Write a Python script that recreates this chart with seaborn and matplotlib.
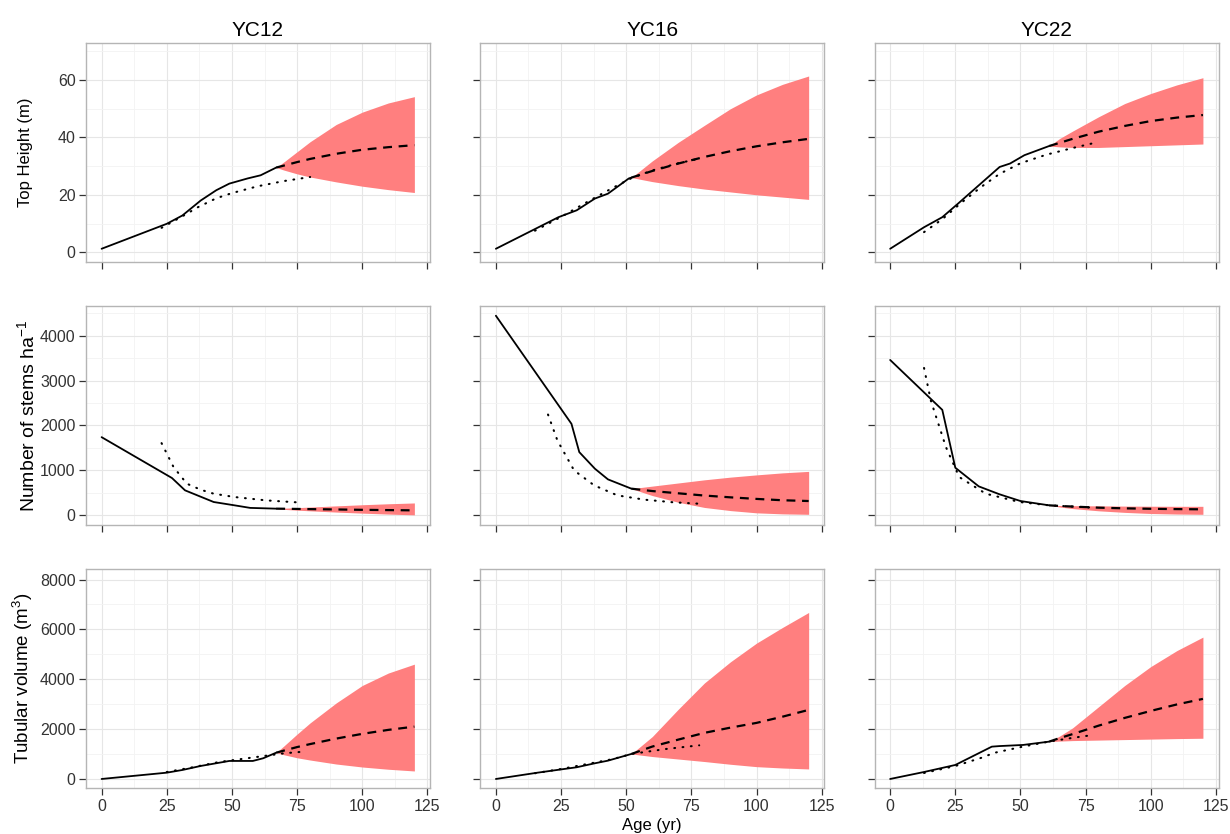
import numpy as np
import matplotlib
matplotlib.use("Agg")
import matplotlib.pyplot as plt
from matplotlib.ticker import MultipleLocator
import seaborn as sns


# -----------------------------
# Data
# -----------------------------
SITES = ["YC12", "YC16", "YC22"]
ROW_LABELS = ["Top Height (m)", "Number of stems ha$^{-1}$", "Tubular volume (m$^3$)"]

# YC12 -----------------------------------------------------------------
yc12_height_obs_age = [0, 25, 31, 38, 44, 49, 56, 61, 67]
yc12_height_obs = [1.2, 9.9, 12.8, 18.0, 21.6, 23.9, 25.7, 26.8, 29.5]
yc12_height_tab_age = [23, 30, 37, 44, 50, 60, 70, 80]
yc12_height_tab = [8.5, 12.0, 15.7, 18.8, 20.6, 23.0, 24.8, 26.2]

yc12_stems_obs_age = [0, 27, 32, 43, 51, 57, 67]
yc12_stems_obs = [1740, 830, 556, 296, 222, 165, 148]
yc12_stems_tab_age = [23, 27.6, 32.7, 38, 43, 51, 63, 77]
yc12_stems_tab = [1607, 1074, 704, 570, 481, 407, 333, 281]

yc12_volume_obs_age = [0, 25, 31, 38, 49, 58, 62, 67]
yc12_volume_obs = [0, 253, 361, 522, 723, 723, 831, 1056]
yc12_volume_tab_age = [25, 35, 45, 55, 65, 70, 78]
yc12_volume_tab = [280, 470, 680, 820, 960, 1030, 1100]

yc12_proj_age = [67, 70, 75, 80, 90, 100, 110, 120]
yc12_height_mean = [29.5, 30.2, 31.4, 32.5, 34.3, 35.7, 36.6, 37.3]
yc12_height_lo = [29.5, 28.6, 27.3, 26.2, 24.5, 23.0, 21.8, 20.8]
yc12_height_hi = [29.5, 31.5, 35.0, 38.5, 44.5, 48.8, 52.0, 54.2]
yc12_stems_mean = [148, 146, 142, 138, 130, 122, 116, 110]
yc12_stems_lo = [148, 132, 115, 100, 72, 48, 27, 10]
yc12_stems_hi = [148, 158, 170, 183, 210, 235, 257, 275]
yc12_volume_mean = [1056, 1140, 1280, 1400, 1620, 1810, 1970, 2100]
yc12_volume_lo = [1056, 970, 850, 760, 600, 480, 390, 321]
yc12_volume_hi = [1056, 1330, 1800, 2250, 3050, 3750, 4250, 4606]

# YC16 -----------------------------------------------------------------
yc16_height_obs_age = [0, 24, 31, 38, 43, 51, 52]
yc16_height_obs = [1.2, 12.2, 14.6, 18.7, 20.4, 25.7, 26.0]
yc16_height_tab_age = [15, 25, 35, 45, 52, 60, 70, 78]
yc16_height_tab = [7.5, 12.3, 17.5, 22.5, 25.8, 28.5, 31.0, 32.6]

yc16_stems_obs_age = [0, 29, 32, 38, 43, 52]
yc16_stems_obs = [4444, 2037, 1407, 1037, 800, 593]
yc16_stems_tab_age = [20, 23.6, 30, 37.7, 46.6, 57, 68, 79]
yc16_stems_tab = [2244, 1667, 1000, 667, 444, 348, 290, 255]

yc16_volume_obs_age = [0, 16, 31, 38, 43, 52]
yc16_volume_obs = [0, 253, 470, 630, 735, 1004]
yc16_volume_tab_age = [15, 25, 35, 45, 52, 65, 78]
yc16_volume_tab = [230, 400, 600, 800, 1004, 1200, 1350]

yc16_proj_age = [52, 60, 70, 80, 90, 100, 110, 120]
yc16_height_mean = [26.0, 28.3, 30.9, 33.2, 35.2, 36.9, 38.3, 39.5]
yc16_height_lo = [26.0, 24.6, 23.2, 22.0, 21.0, 20.0, 19.2, 18.4]
yc16_height_hi = [26.0, 31.8, 38.3, 44.2, 50.0, 54.8, 58.5, 61.4]
yc16_stems_mean = [593, 540, 490, 440, 400, 365, 335, 318]
yc16_stems_lo = [593, 440, 290, 175, 105, 55, 32, 22]
yc16_stems_hi = [593, 650, 720, 790, 850, 900, 945, 978]
yc16_volume_mean = [1004, 1300, 1580, 1850, 2060, 2250, 2500, 2771]
yc16_volume_lo = [1004, 900, 800, 700, 590, 494, 440, 402]
yc16_volume_hi = [1004, 1700, 2800, 3850, 4700, 5450, 6080, 6680]

# YC22 -----------------------------------------------------------------
yc22_height_obs_age = [0, 13, 20, 26, 35.5, 42, 46, 51.5, 61]
yc22_height_obs = [1.2, 8.7, 12.2, 16.9, 24.5, 29.7, 30.9, 33.8, 37.0]
yc22_height_tab_age = [13, 20, 27, 35, 42, 50, 60, 70, 78]
yc22_height_tab = [7.0, 11.5, 17.0, 22.8, 27.3, 31.0, 34.0, 36.3, 38.0]

yc22_stems_obs_age = [0, 20, 25, 34, 42, 50, 61]
yc22_stems_obs = [3459, 2348, 1059, 644, 467, 318, 222]
yc22_stems_tab_age = [13, 15.6, 21.4, 26.5, 36.7, 49.6, 61, 78]
yc22_stems_tab = [3281, 2556, 1519, 852, 481, 296, 222, 170]

yc22_volume_obs_age = [0, 13, 25, 39, 42, 51, 61]
yc22_volume_obs = [0, 280, 562, 1297, 1320, 1365, 1498]
yc22_volume_tab_age = [13, 25, 35, 40, 51, 61, 70, 78]
yc22_volume_tab = [240, 520, 850, 1050, 1300, 1500, 1650, 1767]

yc22_proj_age = [61, 65, 70, 80, 90, 100, 110, 120]
yc22_height_mean = [37.0, 38.1, 39.5, 42.0, 44.0, 45.7, 46.9, 47.8]
yc22_height_lo = [37.0, 36.7, 36.5, 36.5, 36.8, 37.1, 37.4, 37.7]
yc22_height_hi = [37.0, 39.6, 42.2, 47.2, 51.8, 55.3, 58.3, 60.8]
yc22_stems_mean = [222, 208, 195, 170, 155, 145, 138, 133]
yc22_stems_lo = [222, 185, 150, 100, 65, 40, 28, 22]
yc22_stems_hi = [222, 218, 215, 210, 205, 202, 200, 200]
yc22_volume_mean = [1498, 1640, 1800, 2140, 2450, 2731, 2990, 3213]
yc22_volume_lo = [1498, 1520, 1540, 1560, 1580, 1600, 1620, 1634]
yc22_volume_hi = [1498, 1720, 2050, 2900, 3750, 4510, 5150, 5691]

X_TICKS = [0, 25, 50, 75, 100, 125]
Y_TICKS = [[0, 20, 40, 60], [0, 1000, 2000, 3000, 4000], [0, 2000, 4000, 6000, 8000]]
Y_MINOR = [10, 500, 1000]
Y_LIMS = [(-3.5, 73), (-222, 4667), (-374, 8434)]
YLABEL_SIZE = [12, 14, 13.5]
YLABEL_X = [-0.155, -0.14, -0.149]   # right edge of the rotated label, axes fraction

RIBBON_COLOR = "#FF7F7F"


def panel(site, var):
    g = globals()
    p = site.lower()
    return dict(
        obs_age=g[f"{p}_{var}_obs_age"], obs=g[f"{p}_{var}_obs"],
        tab_age=g[f"{p}_{var}_tab_age"], tab=g[f"{p}_{var}_tab"],
        proj_age=g[f"{p}_proj_age"], mean=g[f"{p}_{var}_mean"],
        lo=g[f"{p}_{var}_lo"], hi=g[f"{p}_{var}_hi"],
    )


def style_axis(ax, row):
    ax.set_facecolor("white")
    ax.set_xlim(-6, 126)
    ax.set_ylim(*Y_LIMS[row])
    ax.set_xticks(X_TICKS)
    ax.set_yticks(Y_TICKS[row])
    ax.xaxis.set_minor_locator(MultipleLocator(12.5))
    ax.yaxis.set_minor_locator(MultipleLocator(Y_MINOR[row]))
    ax.grid(which="major", color="#e6e6e6", lw=0.8)
    ax.grid(which="minor", color="#f3f3f3", lw=0.6)
    ax.set_axisbelow(True)
    for s in ax.spines.values():
        s.set_color("#b5b5b5")
        s.set_linewidth(1.0)
        s.set_visible(True)
    ax.tick_params(which="major", length=5, width=0.9, color="#333333",
                   labelcolor="#333333", labelsize=11.5, pad=2.5)
    ax.tick_params(which="minor", length=0)
    ax.tick_params(axis="x", bottom=True)
    ax.tick_params(axis="y", left=True)


def main():
    sns.set_theme(style="white")
    plt.rcParams["font.family"] = ["Liberation Sans", "DejaVu Sans"]
    plt.rcParams["mathtext.fontset"] = "custom"
    plt.rcParams["mathtext.rm"] = "Liberation Sans"
    plt.rcParams["mathtext.it"] = "Liberation Sans:italic"

    fig, axes = plt.subplots(3, 3, figsize=(12.3, 8.34), dpi=100, sharex=True, sharey="row")
    fig.subplots_adjust(left=0.0699, right=0.9907, top=0.9488, bottom=0.0548,
                        wspace=0.146, hspace=0.198)

    for row, var in enumerate(["height", "stems", "volume"]):
        for col, site in enumerate(SITES):
            ax = axes[row, col]
            d = panel(site, var)
            style_axis(ax, row)

            ax.fill_between(d["proj_age"], d["lo"], d["hi"], color=RIBBON_COLOR, lw=0, zorder=2)
            sns.lineplot(x=d["obs_age"], y=d["obs"], ax=ax, color="black", lw=1.3,
                         sort=False, zorder=3)
            sns.lineplot(x=d["tab_age"], y=d["tab"], ax=ax, color="black", lw=1.5,
                         linestyle=(0, (0.4, 3.6)), dash_capstyle="round", sort=False, zorder=3)
            sns.lineplot(x=d["proj_age"], y=d["mean"], ax=ax, color="black", lw=1.6,
                         linestyle=(0, (4, 3)), sort=False, zorder=4)

            ax.set_xlabel("")
            ax.set_ylabel("")
            if row == 0:
                ax.set_title(site, fontsize=15, color="black", pad=5)
            if col == 0:
                ax.set_ylabel(ROW_LABELS[row], fontsize=YLABEL_SIZE[row], color="black")
                ax.yaxis.set_label_coords(YLABEL_X[row], 0.5)
            if row < 2:
                ax.tick_params(axis="x", labelbottom=False)
            if col > 0:
                ax.tick_params(axis="y", labelleft=False)

    axes[2, 1].set_xlabel("Age (yr)", fontsize=12, color="black", labelpad=3)

    fig.savefig("out.png", dpi=100)
    plt.close(fig)


if __name__ == "__main__":
    main()
